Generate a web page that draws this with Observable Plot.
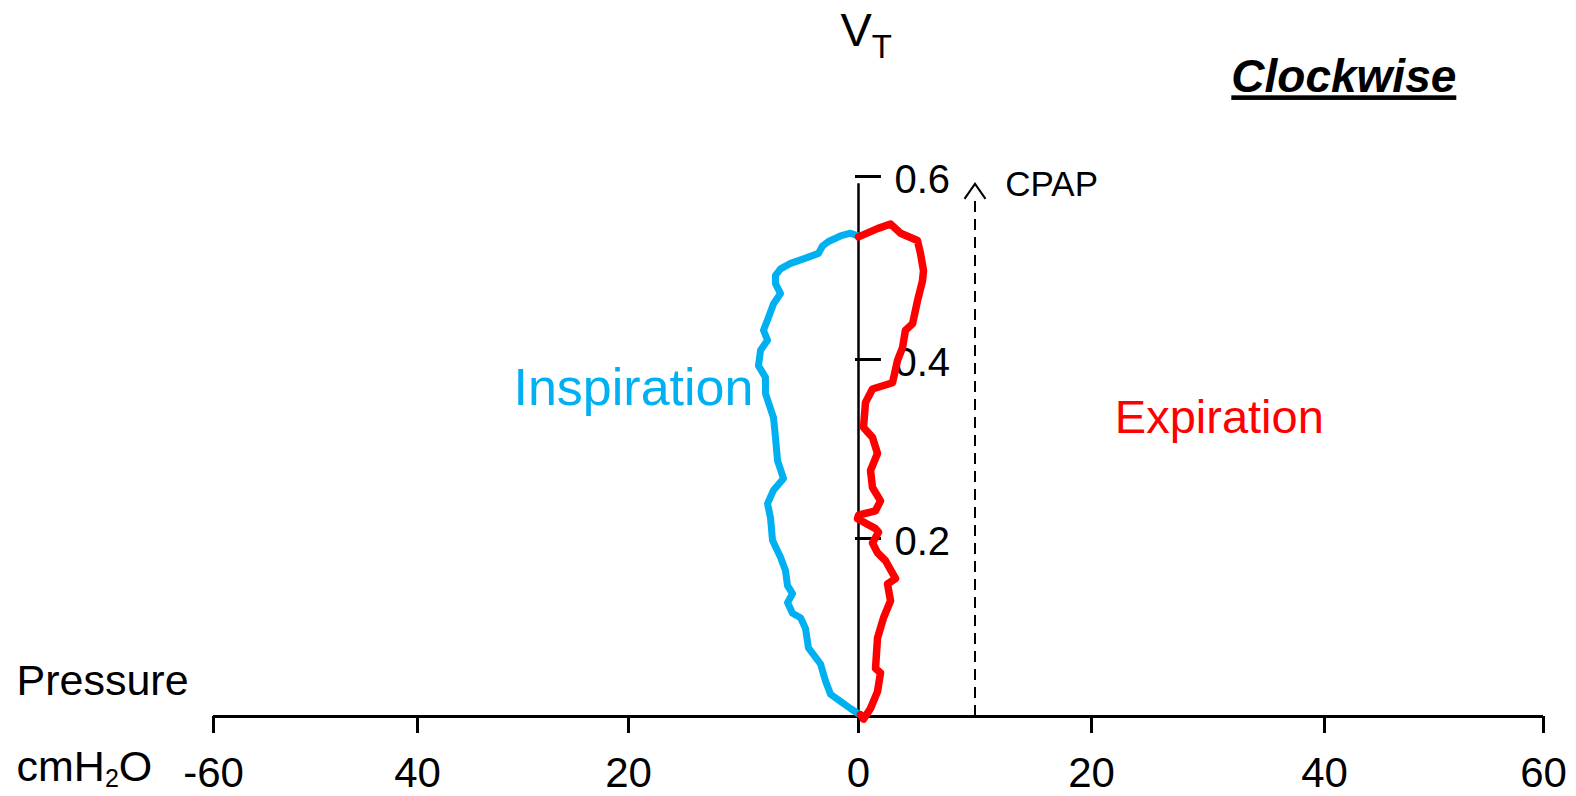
<!DOCTYPE html>
<html>
<head>
<meta charset="utf-8">
<script src="https://cdn.jsdelivr.net/npm/d3@7"></script>
<script src="https://cdn.jsdelivr.net/npm/@observablehq/plot@0.6"></script>
<style>
  body { margin: 0; background: #ffffff; }
</style>
</head>
<body>
<div id="chart"></div>
<script>
// ---- data ----
const xTicks = [-60, -40, -20, 0, 20, 40, 60];
const xTickLabels = ["-60", "40", "20", "0", "20", "40", "60"];
const yTicks = [0.2, 0.4, 0.6];
const yTickLabels = ["0.2", "0.4", "0.6"];
const cpap = 10;

// Inspiration limb (pressure cmH2O, volume L), bottom to top
const inspPressure = [0, -0.70, -1.57, -2.43, -2.87, -3.30, -4.35, -4.61, -5.04, -5.74, -6.17, -5.74, -6.17, -6.35, -6.78, -7.04, -7.48, -7.65, -7.91, -7.39, -6.52, -7.04, -7.22, -7.39, -8.09, -8.09, -8.70, -8.52, -7.91, -8.26, -7.83, -7.39, -6.78, -7.22, -7.22, -6.78, -5.91, -4.78, -3.48, -3.13, -2.61, -1.57, -0.70, 0];
const inspVolume   = [0.003, 0.009, 0.017, 0.025, 0.040, 0.059, 0.077, 0.099, 0.111, 0.116, 0.128, 0.138, 0.147, 0.164, 0.179, 0.186, 0.198, 0.223, 0.239, 0.254, 0.267, 0.287, 0.313, 0.335, 0.362, 0.380, 0.393, 0.410, 0.421, 0.432, 0.446, 0.461, 0.472, 0.483, 0.492, 0.499, 0.505, 0.510, 0.516, 0.524, 0.529, 0.535, 0.538, 0.535];

// Expiration limb, top to bottom
const expPressure = [0, 1.63, 2.75, 3.61, 5.06, 5.32, 5.58, 5.49, 5.06, 4.64, 4.03, 3.78, 3.35, 2.92, 1.20, 0.60, 0.43, 1.20, 1.63, 1.03, 1.20, 1.89, 1.46, 0.00, -0.09, 1.46, 1.72, 1.20, 1.63, 2.32, 3.18, 2.49, 2.75, 2.15, 1.63, 1.46, 1.89, 1.63, 1.03, 0.43, 0.17];
const expVolume   = [0.534, 0.543, 0.548, 0.538, 0.530, 0.516, 0.497, 0.486, 0.464, 0.439, 0.432, 0.413, 0.399, 0.374, 0.367, 0.352, 0.324, 0.313, 0.295, 0.276, 0.257, 0.242, 0.231, 0.226, 0.222, 0.211, 0.207, 0.195, 0.184, 0.175, 0.155, 0.149, 0.130, 0.111, 0.088, 0.054, 0.049, 0.028, 0.009, -0.003, 0.002];

// ---- build ----
const insp = inspPressure.map((p, i) => ({p, v: inspVolume[i]}));
const expi = expPressure.map((p, i) => ({p, v: expVolume[i]}));
const font = '"Liberation Sans", Arial, Helvetica, sans-serif';
const blue = "#00B0F0";
const red = "#FF0000";

const chevron = {
  draw(ctx) {
    ctx.moveTo(-10.5, 15);
    ctx.lineTo(0, 0);
    ctx.lineTo(10.5, 15);
  }
};

const plot = Plot.plot({
  width: 1576,
  height: 796,
  marginTop: 0,
  marginRight: 0,
  marginBottom: 80,
  marginLeft: 0,
  style: {fontFamily: font, background: "#ffffff", overflow: "visible", color: "black"},
  x: {type: "linear", domain: xTicks, range: [213, 417, 628, 858, 1091, 1324, 1543], axis: null},
  y: {type: "linear", domain: [0, 0.2, 0.4, 0.6], range: [716, 538, 359, 176], axis: null},
  marks: [
    // x axis
    Plot.ruleY([0], {x1: -60, x2: 60, stroke: "black", strokeWidth: 3}),
    Plot.axisX(xTicks, {
      anchor: "bottom",
      tickSize: 17,
      tickPadding: 24,
      strokeWidth: 3,
      fontSize: 42,
      label: null,
      tickFormat: d => xTickLabels[xTicks.indexOf(d)]
    }),
    // y axis
    Plot.ruleX([0], {y1: 0, y2: 0.592, stroke: "black", strokeWidth: 2.5}),
    Plot.ruleY(yTicks, {x1: -0.26, x2: 1.97, stroke: "black", strokeWidth: 3}),
    Plot.text(yTicks, {
      x: 0, y: d => d,
      text: d => yTickLabels[yTicks.indexOf(d)],
      dx: 36, dy: 4, textAnchor: "start", fontSize: 40, fill: "black"
    }),
    // CPAP line
    Plot.ruleX([cpap], {x: d => d, y1: 0, y2: 0.577, stroke: "black", strokeWidth: 2, strokeDasharray: "11,7"}),
    Plot.dot([cpap], {x: d => d, y: () => 0.592, symbol: chevron, fill: "none", stroke: "black", strokeWidth: 2}),
    Plot.text(["CPAP"], {x: 12.6, y: 0.579, text: d => d, textAnchor: "start", lineAnchor: "bottom", fontSize: 35, fill: "black"}),
    // loops
    Plot.line(insp, {x: "p", y: "v", stroke: blue, strokeWidth: 7, strokeLinejoin: "round", strokeLinecap: "round"}),
    Plot.line(expi, {x: "p", y: "v", stroke: red, strokeWidth: 7.5, strokeLinejoin: "round", strokeLinecap: "round"}),
    // labels
    Plot.text(["Inspiration"], {x: -30.9, y: 0.349, text: d => d, textAnchor: "start", lineAnchor: "bottom", fontSize: 52, fill: blue}),
    Plot.text(["Expiration"], {x: 22.0, y: 0.318, text: d => d, textAnchor: "start", lineAnchor: "bottom", fontSize: 47, fill: red}),
    Plot.text(["Pressure"], {frameAnchor: "left", y: 0.0237, dx: 16, text: d => d, textAnchor: "start", lineAnchor: "bottom", fontSize: 43, fill: "black"}),
    Plot.text(["cmH2O"], {frameAnchor: "left", y: -0.0723, dx: 16, text: d => d, textAnchor: "start", lineAnchor: "bottom", fontSize: 43, fill: "black"}),
    Plot.text(["VT"], {x: -1.57, y: 0.743, text: d => d, textAnchor: "start", lineAnchor: "bottom", fontSize: 47, fill: "black"}),
    Plot.text(["Clockwise"], {x: 32.0, y: 0.692, text: d => d, textAnchor: "start", lineAnchor: "bottom", fontSize: 46, fontWeight: "bold", fontStyle: "italic", fill: "black"})
  ]
});

// subscripts and underline as real text
d3.select(plot).selectAll("text").each(function() {
  const t = this.textContent;
  const sel = d3.select(this);
  if (t === "cmH2O") {
    sel.text(null);
    sel.append("tspan").text("cmH");
    sel.append("tspan").attr("font-size", 25).attr("dy", 6).text("2");
    sel.append("tspan").attr("dy", -6).text("O");
  } else if (t === "VT") {
    sel.text(null);
    sel.append("tspan").text("V");
    sel.append("tspan").attr("font-size", 33).attr("dy", 12).text("T");
  } else if (t === "Clockwise") {
    sel.style("text-decoration", "underline")
       .style("text-decoration-thickness", "4px")
       .style("text-underline-offset", "7px");
  }
});

document.getElementById("chart").appendChild(plot);
</script>
</body>
</html>
